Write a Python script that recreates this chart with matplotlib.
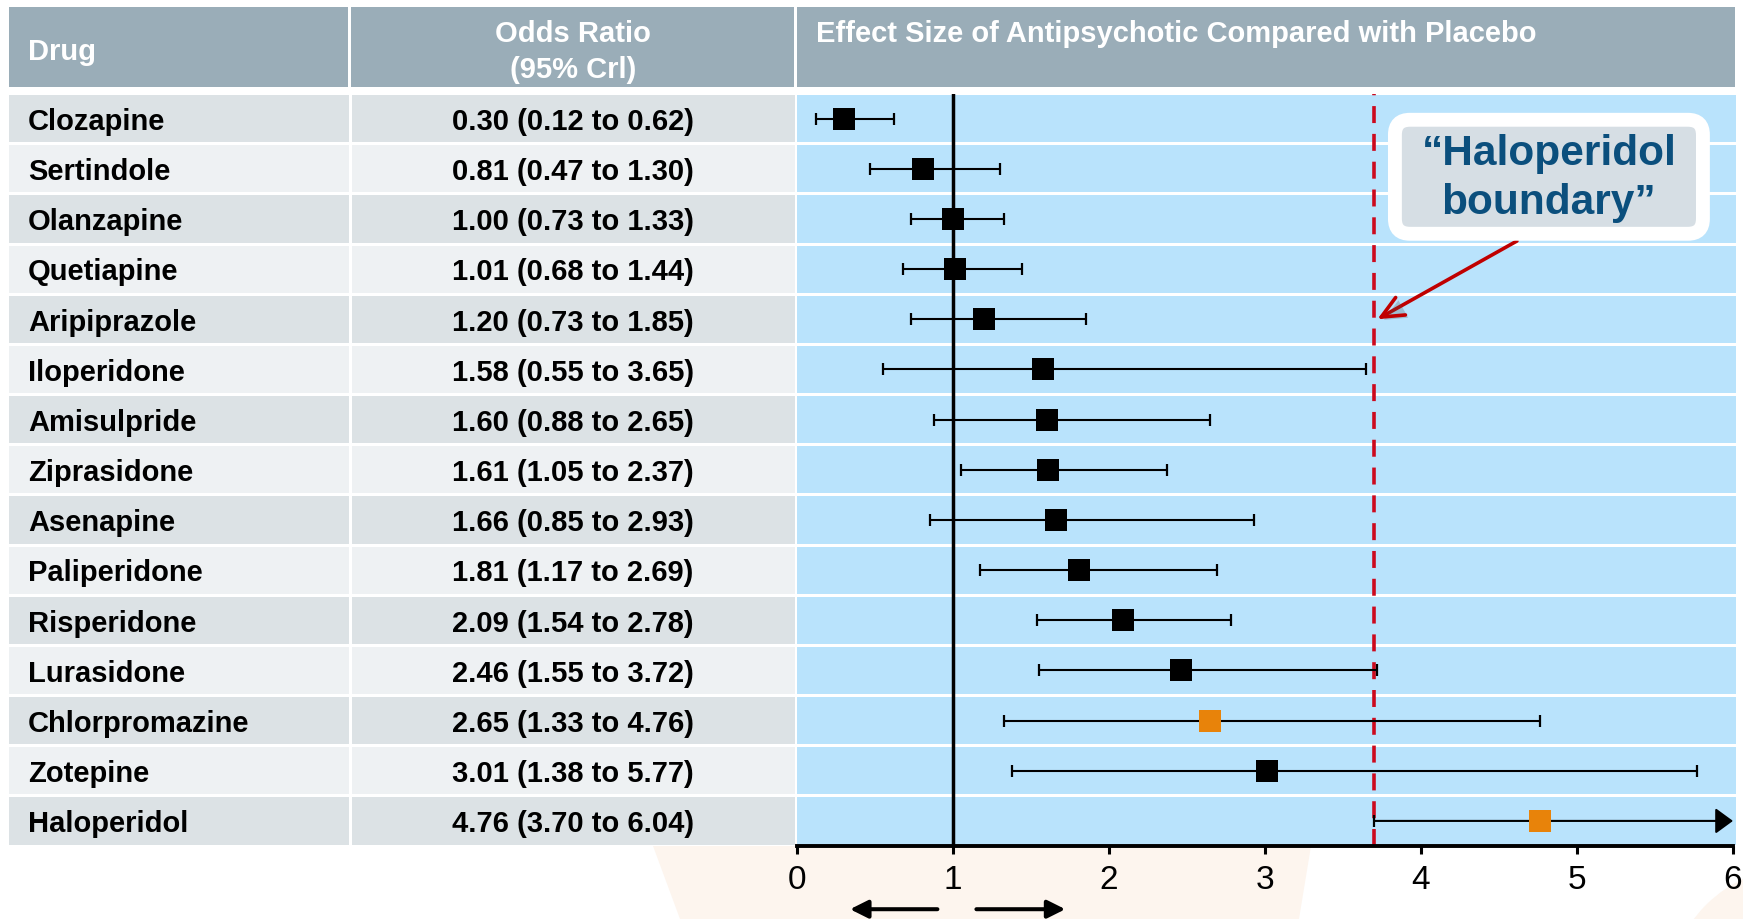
import matplotlib
matplotlib.use('Agg')
import matplotlib.pyplot as plt
from matplotlib.patches import Rectangle, FancyBboxPatch, Polygon, Circle
import matplotlib.patheffects as pe

# ---------------- data ----------------
drugs = ['Clozapine', 'Sertindole', 'Olanzapine', 'Quetiapine', 'Aripiprazole',
         'Iloperidone', 'Amisulpride', 'Ziprasidone', 'Asenapine', 'Paliperidone',
         'Risperidone', 'Lurasidone', 'Chlorpromazine', 'Zotepine', 'Haloperidol']
odds = [0.30, 0.81, 1.00, 1.01, 1.20, 1.58, 1.60, 1.61, 1.66, 1.81, 2.09, 2.46, 2.65, 3.01, 4.76]
lower = [0.12, 0.47, 0.73, 0.68, 0.73, 0.55, 0.88, 1.05, 0.85, 1.17, 1.54, 1.55, 1.33, 1.38, 3.70]
upper = [0.62, 1.30, 1.33, 1.44, 1.85, 3.65, 2.65, 2.37, 2.93, 2.69, 2.78, 3.72, 4.76, 5.77, 6.04]
highlight = ['Chlorpromazine', 'Haloperidol']
xticks = [0, 1, 2, 3, 4, 5, 6]
reference_or = 1.0
boundary_or = 3.70
header_drug = 'Drug'
header_or = ['Odds Ratio', '(95% Crl)']
header_plot = 'Effect Size of Antipsychotic Compared with Placebo'
callout_text = '\u201cHaloperidol\nboundary\u201d'

# ---------------- style ----------------
FONT = ['Liberation Sans', 'DejaVu Sans']
plt.rcParams['font.family'] = FONT
HEAD = '#9AADB8'
DARK = '#DCE2E5'
LIGHT = '#EEF1F3'
BLUE = '#B9E3FC'
ORANGE = '#E8830A'
RED = '#CC0A1E'
PEACH = '#FDF5EE'
NAVY = '#0B4F7D'

W, H = 1743, 920
XL, C1, C2, XR = 9, 350, 796, 1733     # column boundaries (px)
HT, HB = 8, 88                           # header top / bottom (px)
RT, RB = 94.5, 847                       # rows top / bottom (px)
XMIN, XMAX = 0, 6

n = len(drugs)
g = 1.5 / ((RB - RT) / n)                # half white gap between rows (row units)
TXT_DY = 0.045                           # small downward nudge of row text (rows)

fig = plt.figure(figsize=(W / 100, H / 100), dpi=100)
fig.patch.set_facecolor('white')

# background / header axes in pixel units
bg = fig.add_axes([0, 0, 1, 1], zorder=0)
bg.set_xlim(0, W)
bg.set_ylim(H, 0)
bg.axis('off')
bg.add_patch(Polygon([(653, RB), (1311, RB), (1299, H), (680, H)], closed=True,
                     fc=PEACH, ec='none'))
bg.add_patch(Circle((1800, 1000), 133, fc=PEACH, ec='none'))
bg.add_patch(Rectangle((XL, HT), C1 - 1.5 - XL, HB - HT, fc=HEAD, ec='none'))
bg.add_patch(Rectangle((C1 + 1.5, HT), C2 - 1.5 - C1 - 1.5, HB - HT, fc=HEAD, ec='none'))
bg.add_patch(Rectangle((C2 + 1.5, HT), XR + 2 - C2 - 1.5, HB - HT, fc=HEAD, ec='none'))
tkw = dict(color='white', fontsize=21, fontweight='bold', va='center')
bg.text(28, 52.5, header_drug, ha='left', **tkw)
bg.text((C1 + C2) / 2, 33.5, header_or[0], ha='center', **tkw)
bg.text((C1 + C2) / 2, 69.5, header_or[1], ha='center', **tkw)
bg.text(816, 33.5, header_plot, ha='left', **tkw)

# table axes: x in px, y in rows
tab = fig.add_axes([XL / W, (H - RB) / H, (C2 - XL) / W, (RB - RT) / H], zorder=1)
tab.set_xlim(XL, C2)
tab.set_ylim(n - 0.5, -0.5)
tab.axis('off')
for i, (d, o, lo, hi) in enumerate(zip(drugs, odds, lower, upper)):
    col = DARK if i % 2 == 0 else LIGHT
    tab.add_patch(Rectangle((XL, i - 0.5 + g), C1 - 1.5 - XL, 1 - 2 * g, fc=col, ec='none'))
    tab.add_patch(Rectangle((C1 + 1.5, i - 0.5 + g), C2 - 1 - C1 - 1.5, 1 - 2 * g, fc=col, ec='none'))
    tab.text(28, i + TXT_DY, d, ha='left', va='center', fontsize=21, fontweight='bold',
             color='black')
    tab.text((C1 + C2) / 2, i + TXT_DY, f'{o:.2f} ({lo:.2f} to {hi:.2f})', ha='center',
             va='center', fontsize=21, fontweight='bold', color='black')

# forest plot axes
ax = fig.add_axes([(C2 + 1) / W, (H - RB) / H, (XR - C2 - 1) / W, (RB - RT) / H], zorder=2)
ax.patch.set_alpha(0)
ax.set_xlim(XMIN, XMAX)
ax.set_ylim(n - 0.5, -0.5)
for i in range(n):
    ax.axhspan(i - 0.5 + g, i + 0.5 - g, xmin=0, xmax=1.003, fc=BLUE, ec='none', zorder=0,
               clip_on=False)

ax.axvline(reference_or, color='black', lw=2.5, zorder=2)
ax.axvline(boundary_or, color=RED, lw=2.6, ls=(0, (4.7, 3.0)), zorder=2)

for i, (d, o, lo, hi) in enumerate(zip(drugs, odds, lower, upper)):
    if hi > XMAX:
        ax.annotate('', xy=(XMAX, i), xytext=(lo, i), annotation_clip=False,
                    arrowprops=dict(arrowstyle='-|>,head_length=1.08,head_width=0.79',
                                    mutation_scale=10, lw=1.5, color='black',
                                    shrinkA=0, shrinkB=0), zorder=3)
        ax.plot([lo], [i], marker='|', ms=8.6, mew=1.6, color='black', zorder=3)
    else:
        ax.hlines(i, lo, hi, color='black', lw=1.5, zorder=3)
        ax.plot([lo, hi], [i, i], ls='none', marker='|', ms=8.6, mew=1.6, color='black', zorder=3)
    ax.plot([o], [i], marker='s', ms=15.8, mew=0,
            color=ORANGE if d in highlight else 'black', zorder=4)

# axis styling
for s in ['top', 'right', 'left']:
    ax.spines[s].set_visible(False)
ax.spines['bottom'].set_linewidth(2.8)
ax.set_yticks([])
ax.set_xticks(xticks)
ax.set_xticklabels([str(t) for t in xticks])
ax.tick_params(axis='x', direction='out', length=5.8, width=2.2, labelsize=24, pad=7,
               colors='black')

# direction arrows below the axis
for x0, x1 in [(0.90, 0.34), (1.15, 1.72)]:
    ax.annotate('', xy=(x1, -0.084), xytext=(x0, -0.084),
                xycoords=('data', 'axes fraction'), textcoords=('data', 'axes fraction'),
                annotation_clip=False,
                arrowprops=dict(arrowstyle='-|>,head_length=1.08,head_width=0.54',
                                mutation_scale=10, lw=2.9, color='black',
                                shrinkA=0, shrinkB=0))

# callout
px_x = (XR - C2 - 1) / (XMAX - XMIN)     # px per x unit
px_y = (RB - RT) / n                     # px per row
cx, cy = 4.82, 1.16
bw, bh = 308 / px_x, 114 / px_y
arr = ax.annotate('', xy=(3.72, 4.0), xytext=(4.615, 2.44),
                  arrowprops=dict(arrowstyle='->,head_length=1.6,head_width=0.72',
                                  mutation_scale=10, lw=2.6, color='#C00000',
                                  shrinkA=0, shrinkB=0), zorder=5)
arr.arrow_patch.set_path_effects([pe.SimplePatchShadow(offset=(2, -2), alpha=0.25), pe.Normal()])
box = FancyBboxPatch((cx - bw / 2, cy - bh / 2), bw, bh,
                     boxstyle='round,pad=0,rounding_size=%.4f' % (15 / px_x),
                     mutation_aspect=px_x / px_y,
                     fc='#D6DEE4', ec='white', lw=10, zorder=6, clip_on=False)
box.set_path_effects([pe.SimplePatchShadow(offset=(3, -3), shadow_rgbFace='#3d5a70', alpha=0.35),
                      pe.Normal()])
ax.add_patch(box)
ax.text(cx, cy + 0.02, callout_text, ha='center', va='center', fontsize=30.5, fontweight='bold',
        color=NAVY, linespacing=1.3, zorder=7)

fig.savefig('out.png', dpi=100)
